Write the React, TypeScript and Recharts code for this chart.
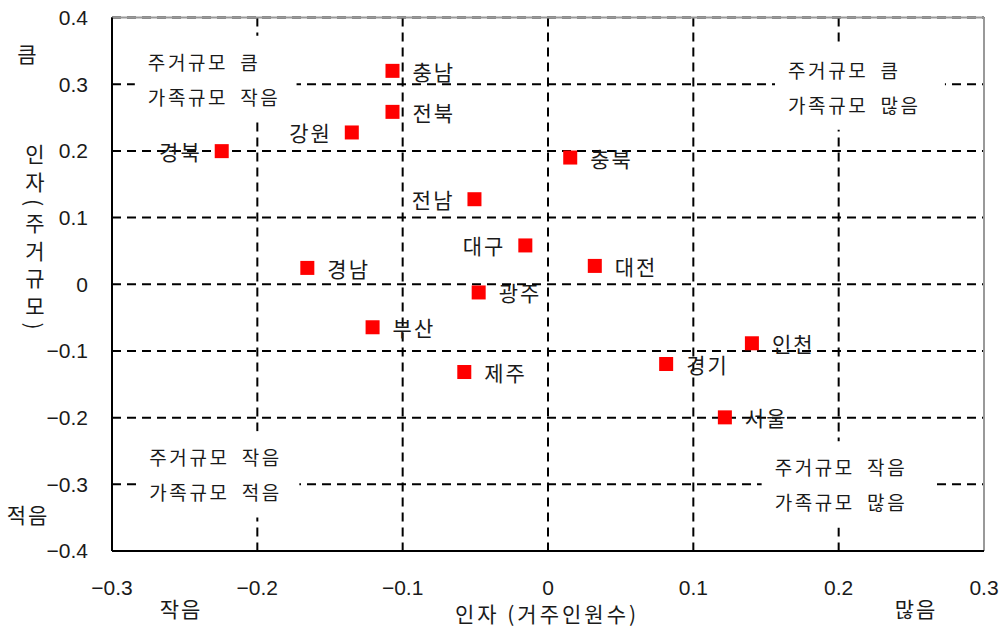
import React from 'react';
import {
  ScatterChart,
  Scatter,
  XAxis,
  YAxis,
  CartesianGrid,
  ReferenceLine,
  ReferenceArea,
  Customized,
} from 'recharts';

// 지역별 인자 점수
const regions = ['충남', '전북', '강원', '경북', '충북', '전남', '대구', '대전', '경남', '광주', '부산', '제주', '경기', '인천', '서울'];
const householdFactor = [-0.107, -0.107, -0.135, -0.2245, 0.0153, -0.0506, -0.0156, 0.0322, -0.1656, -0.0477, -0.1207, -0.0576, 0.0813, 0.1403, 0.1217];
const housingFactor = [0.32, 0.2585, 0.2276, 0.1996, 0.19, 0.1275, 0.0582, 0.0275, 0.0245, -0.0123, -0.0645, -0.1316, -0.1196, -0.0885, -0.1996];
const labelSide = ['right', 'right', 'left', 'left', 'right', 'left', 'left', 'right', 'right', 'right', 'right', 'right', 'right', 'right', 'right'];

const xTicks = [-0.3, -0.2, -0.1, 0, 0.1, 0.2, 0.3];
const yTicks = [-0.4, -0.3, -0.2, -0.1, 0, 0.1, 0.2, 0.3, 0.4];

// 사분면 설명 상자
const quadrantNotes = [
  { lines: ['주거규모\u2002큼', '가족규모\u2002작음'], x1: -0.2843, x2: -0.173, y1: 0.2438, y2: 0.3728 },
  { lines: ['주거규모\u2002큼', '가족규모\u2002많음'], x1: 0.1562, x2: 0.2731, y1: 0.2318, y2: 0.3608 },
  { lines: ['주거규모\u2002작음', '가족규모\u2002적음'], x1: -0.2833, x2: -0.1711, y1: -0.3496, y2: -0.2206 },
  { lines: ['주거규모\u2002작음', '가족규모\u2002많음'], x1: 0.147, x2: 0.2648, y1: -0.3646, y2: -0.2356 },
];

const points = regions.map((name, i) => ({
  name,
  x: householdFactor[i],
  y: housingFactor[i],
  side: labelSide[i],
}));

const KR = '"Noto Sans CJK KR", "Noto Sans", sans-serif';
const NUM = '"Liberation Sans", Arial, sans-serif';
const INK = '#1a1a1a';

const fmt = (v: number) => (v < 0 ? '\u2212' + Math.abs(v) : String(v));

const PointMark = (props: any) => {
  const { cx, cy, payload } = props;
  const right = payload.side === 'right';
  return (
    <g>
      <rect x={cx - 7} y={cy - 7} width={14} height={14} fill="#ff0000" />
      <text
        x={right ? cx + 20 : cx - 20}
        y={cy}
        textAnchor={right ? 'start' : 'end'}
        dominantBaseline="central"
        fontFamily={KR}
        fontSize={21}
        letterSpacing={2}
        fill={INK}
      >
        {payload.name}
      </text>
    </g>
  );
};

const NoteLabel = (lines: string[]) => (props: any) => {
  const { viewBox } = props;
  const cy = viewBox.y + viewBox.height / 2;
  return (
    <g>
      {lines.map((t, i) => (
        <text
          key={i}
          x={viewBox.x + 13}
          y={cy + (i === 0 ? -17.5 : 17.5)}
          dominantBaseline="central"
          fontFamily={KR}
          fontSize={19}
          letterSpacing={2.6}
          fill={INK}
        >
          {t}
        </text>
      ))}
    </g>
  );
};

const OuterText = () => (
  <g fontFamily={KR} fill={INK}>
    <text x={547} y={613} textAnchor="middle" dominantBaseline="central" fontSize={21} letterSpacing={3}>
      인자 (거주인원수)
    </text>
    <text x={181} y={608} textAnchor="middle" dominantBaseline="central" fontSize={21} letterSpacing={2}>
      작음
    </text>
    <text x={916} y={608} textAnchor="middle" dominantBaseline="central" fontSize={21} letterSpacing={2}>
      많음
    </text>
    <text x={27} y={53} textAnchor="middle" dominantBaseline="central" fontSize={21}>
      큼
    </text>
    <text x={28} y={514} textAnchor="middle" dominantBaseline="central" fontSize={21} letterSpacing={2}>
      적음
    </text>
    <text x={35} y={144} fontSize={21} letterSpacing={6.5} style={{ writingMode: 'vertical-rl' }}>
      인자(주거규모)
    </text>
  </g>
);

export default function App() {
  return (
    <div style={{ position: 'absolute', left: 0, top: 0, width: 1004, height: 634, background: '#fff' }}>
      <ScatterChart width={1004} height={634} margin={{ top: 17.5, right: 20, bottom: 0, left: 0 }}>
        <CartesianGrid stroke="#000" strokeWidth={2} strokeDasharray="9 6" />
        <XAxis
          type="number"
          dataKey="x"
          domain={[-0.3, 0.3]}
          ticks={xTicks}
          tickFormatter={fmt}
          height={83}
          axisLine={{ stroke: '#000', strokeWidth: 2 }}
          tickLine={false}
          tickMargin={23}
          tick={{ fontFamily: NUM, fontSize: 21, fill: INK }}
          allowDataOverflow
        />
        <YAxis
          type="number"
          dataKey="y"
          domain={[-0.4, 0.4]}
          ticks={yTicks}
          tickFormatter={fmt}
          width={112}
          axisLine={{ stroke: '#000', strokeWidth: 2 }}
          tickLine={false}
          tickMargin={18}
          tick={{ fontFamily: NUM, fontSize: 21, fill: INK }}
          allowDataOverflow
        />
        <ReferenceLine y={0.4} stroke="#999" strokeWidth={2} />
        <ReferenceLine x={0.3} stroke="#999" strokeWidth={2} />
        {quadrantNotes.map((n, i) => (
          <ReferenceArea
            key={i}
            x1={n.x1}
            x2={n.x2}
            y1={n.y1}
            y2={n.y2}
            fill="#fff"
            fillOpacity={1}
            stroke="none"
            ifOverflow="visible"
            label={NoteLabel(n.lines)}
          />
        ))}
        <Scatter data={points} shape={PointMark} isAnimationActive={false} />
        <Customized component={OuterText} />
      </ScatterChart>
    </div>
  );
}
